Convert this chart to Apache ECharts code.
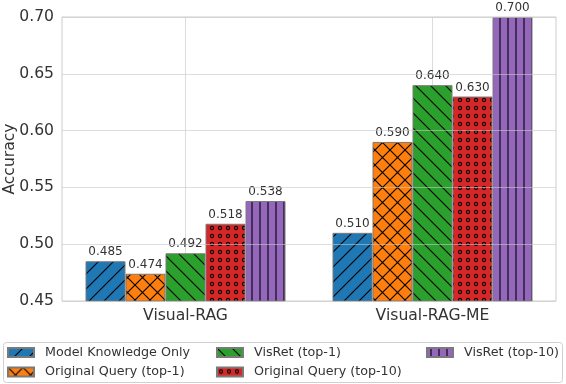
<html>
<head>
<meta charset="utf-8">
<script src="https://cdn.jsdelivr.net/npm/echarts@6/dist/echarts.min.js"></script>
<style>
  body { margin: 0; background: #fff; }
  #chart { width: 566px; height: 384px; }
</style>
</head>
<body>
<div id="chart"></div>
<script type="text/javascript">

var categories = ['Visual-RAG', 'Visual-RAG-ME'];
var seriesNames = ['Model Knowledge Only', 'Original Query (top-1)', 'VisRet (top-1)', 'Original Query (top-10)', 'VisRet (top-10)'];
var modelKnowledge = [0.485, 0.510];
var origQueryTop1 = [0.474, 0.590];
var visRetTop1 = [0.492, 0.640];
var origQueryTop10 = [0.518, 0.630];
var visRetTop10 = [0.538, 0.700];
var yTicks = [0.45, 0.50, 0.55, 0.60, 0.65, 0.70];

var colors = ['#1f77b4', '#ff7f0e', '#2ca02c', '#d62728', '#9467bd'];
var hatches = ['/', 'x', '\\', 'o', '|'];
var values = [modelKnowledge, origQueryTop1, visRetTop1, origQueryTop10, visRetTop10];

var font = 'DejaVu Sans';
var textColor = '#333333';

// matplotlib-like hatch tiles
function hatch(color, kind) {
    var s = (kind === 'o' || kind === '|') ? 8 : 15;
    var c = document.createElement('canvas');
    c.width = s; c.height = s;
    var g = c.getContext('2d');
    g.fillStyle = color;
    g.fillRect(0, 0, s, s);
    g.strokeStyle = '#000';
    g.lineWidth = 1.1;
    g.beginPath();
    if (kind === '/' || kind === 'x') {
        g.moveTo(0, s); g.lineTo(s, 0);
        g.moveTo(-1, 1); g.lineTo(1, -1);
        g.moveTo(s - 1, s + 1); g.lineTo(s + 1, s - 1);
    }
    if (kind === '\\' || kind === 'x') {
        g.moveTo(0, 0); g.lineTo(s, s);
        g.moveTo(s - 1, -1); g.lineTo(s + 1, 1);
        g.moveTo(-1, s - 1); g.lineTo(1, s + 1);
    }
    if (kind === '|') {
        g.moveTo(s / 2, 0); g.lineTo(s / 2, s);
    }
    g.stroke();
    if (kind === 'o') {
        g.beginPath();
        g.arc(s / 2, s / 2, 1.6, 0, 2 * Math.PI);
        g.stroke();
    }
    return c;
}

var series = seriesNames.map(function (name, i) {
    return {
        name: name,
        type: 'bar',
        barWidth: 40,
        barGap: '0%',
        z: 2,
        data: values[i],
        itemStyle: {
            color: { image: hatch(colors[i], hatches[i]), repeat: 'repeat' },
            borderColor: '#7a7a7a',
            borderWidth: 1
        },
        label: {
            show: true,
            position: 'top',
            distance: 3,
            fontFamily: font,
            fontSize: 12,
            color: textColor,
            formatter: function (p) { return p.value.toFixed(3); }
        }
    };
});

// vertical grid lines at the category centres
series.push({
    type: 'line',
    z: 1,
    data: ['-', '-'],
    silent: true,
    markLine: {
        z: 1,
        silent: true,
        symbol: ['none', 'none'],
        label: { show: false },
        lineStyle: { color: '#dcdcdc', width: 1, type: 'solid' },
        data: categories.map(function (c) { return { xAxis: c }; })
    }
});

function legendCol(left, names) {
    return {
        orient: 'vertical',
        left: left,
        top: 345,
        padding: 0,
        itemWidth: 26,
        itemHeight: 9,
        itemGap: 4.5,
        icon: 'rect',
        data: names,
        textStyle: {
            fontFamily: font,
            fontSize: 12.7,
            lineHeight: 15,
            color: textColor,
            padding: [0, 0, 0, 6]
        }
    };
}

var option = {
    animation: false,
    backgroundColor: '#fff',
    grid: {
        left: 62, right: 10, top: 17, bottom: 83,
        outerBoundsMode: 'none',
        containLabel: false,
        show: true,
        borderColor: '#cccccc',
        borderWidth: 1
    },
    xAxis: {
        type: 'category',
        data: categories,
        axisLine: { show: false },
        axisTick: { show: false },
        splitLine: { show: false },
        axisLabel: { fontFamily: font, fontSize: 15.6, color: textColor, margin: 7 }
    },
    yAxis: {
        type: 'value',
        min: yTicks[0],
        max: yTicks[yTicks.length - 1],
        interval: 0.05,
        z: 3,
        name: 'Accuracy',
        nameLocation: 'middle',
        nameGap: 44,
        nameMoveOverlap: false,
        nameTextStyle: { fontFamily: font, fontSize: 15.6, color: textColor },
        axisLine: { show: false },
        axisTick: { show: false },
        axisLabel: {
            fontFamily: font, fontSize: 15.6, color: textColor, margin: 8,
            formatter: function (v) { return v.toFixed(2); }
        },
        splitLine: { lineStyle: { color: 'rgba(200,200,200,0.6)', width: 1 } }
    },
    legend: [
        legendCol(7, [seriesNames[0], seriesNames[1]]),
        legendCol(216, [seriesNames[2], seriesNames[3]]),
        legendCol(426, [seriesNames[4]])
    ],
    graphic: [{
        type: 'rect',
        z: -1,
        shape: { x: 3.5, y: 342.5, width: 559, height: 40, r: 3 },
        style: { fill: '#fff', stroke: '#d0d0d0', lineWidth: 1 }
    }],
    series: series
};

var chart = echarts.init(document.getElementById('chart'));
chart.setOption(option);

</script>
</body>
</html>
